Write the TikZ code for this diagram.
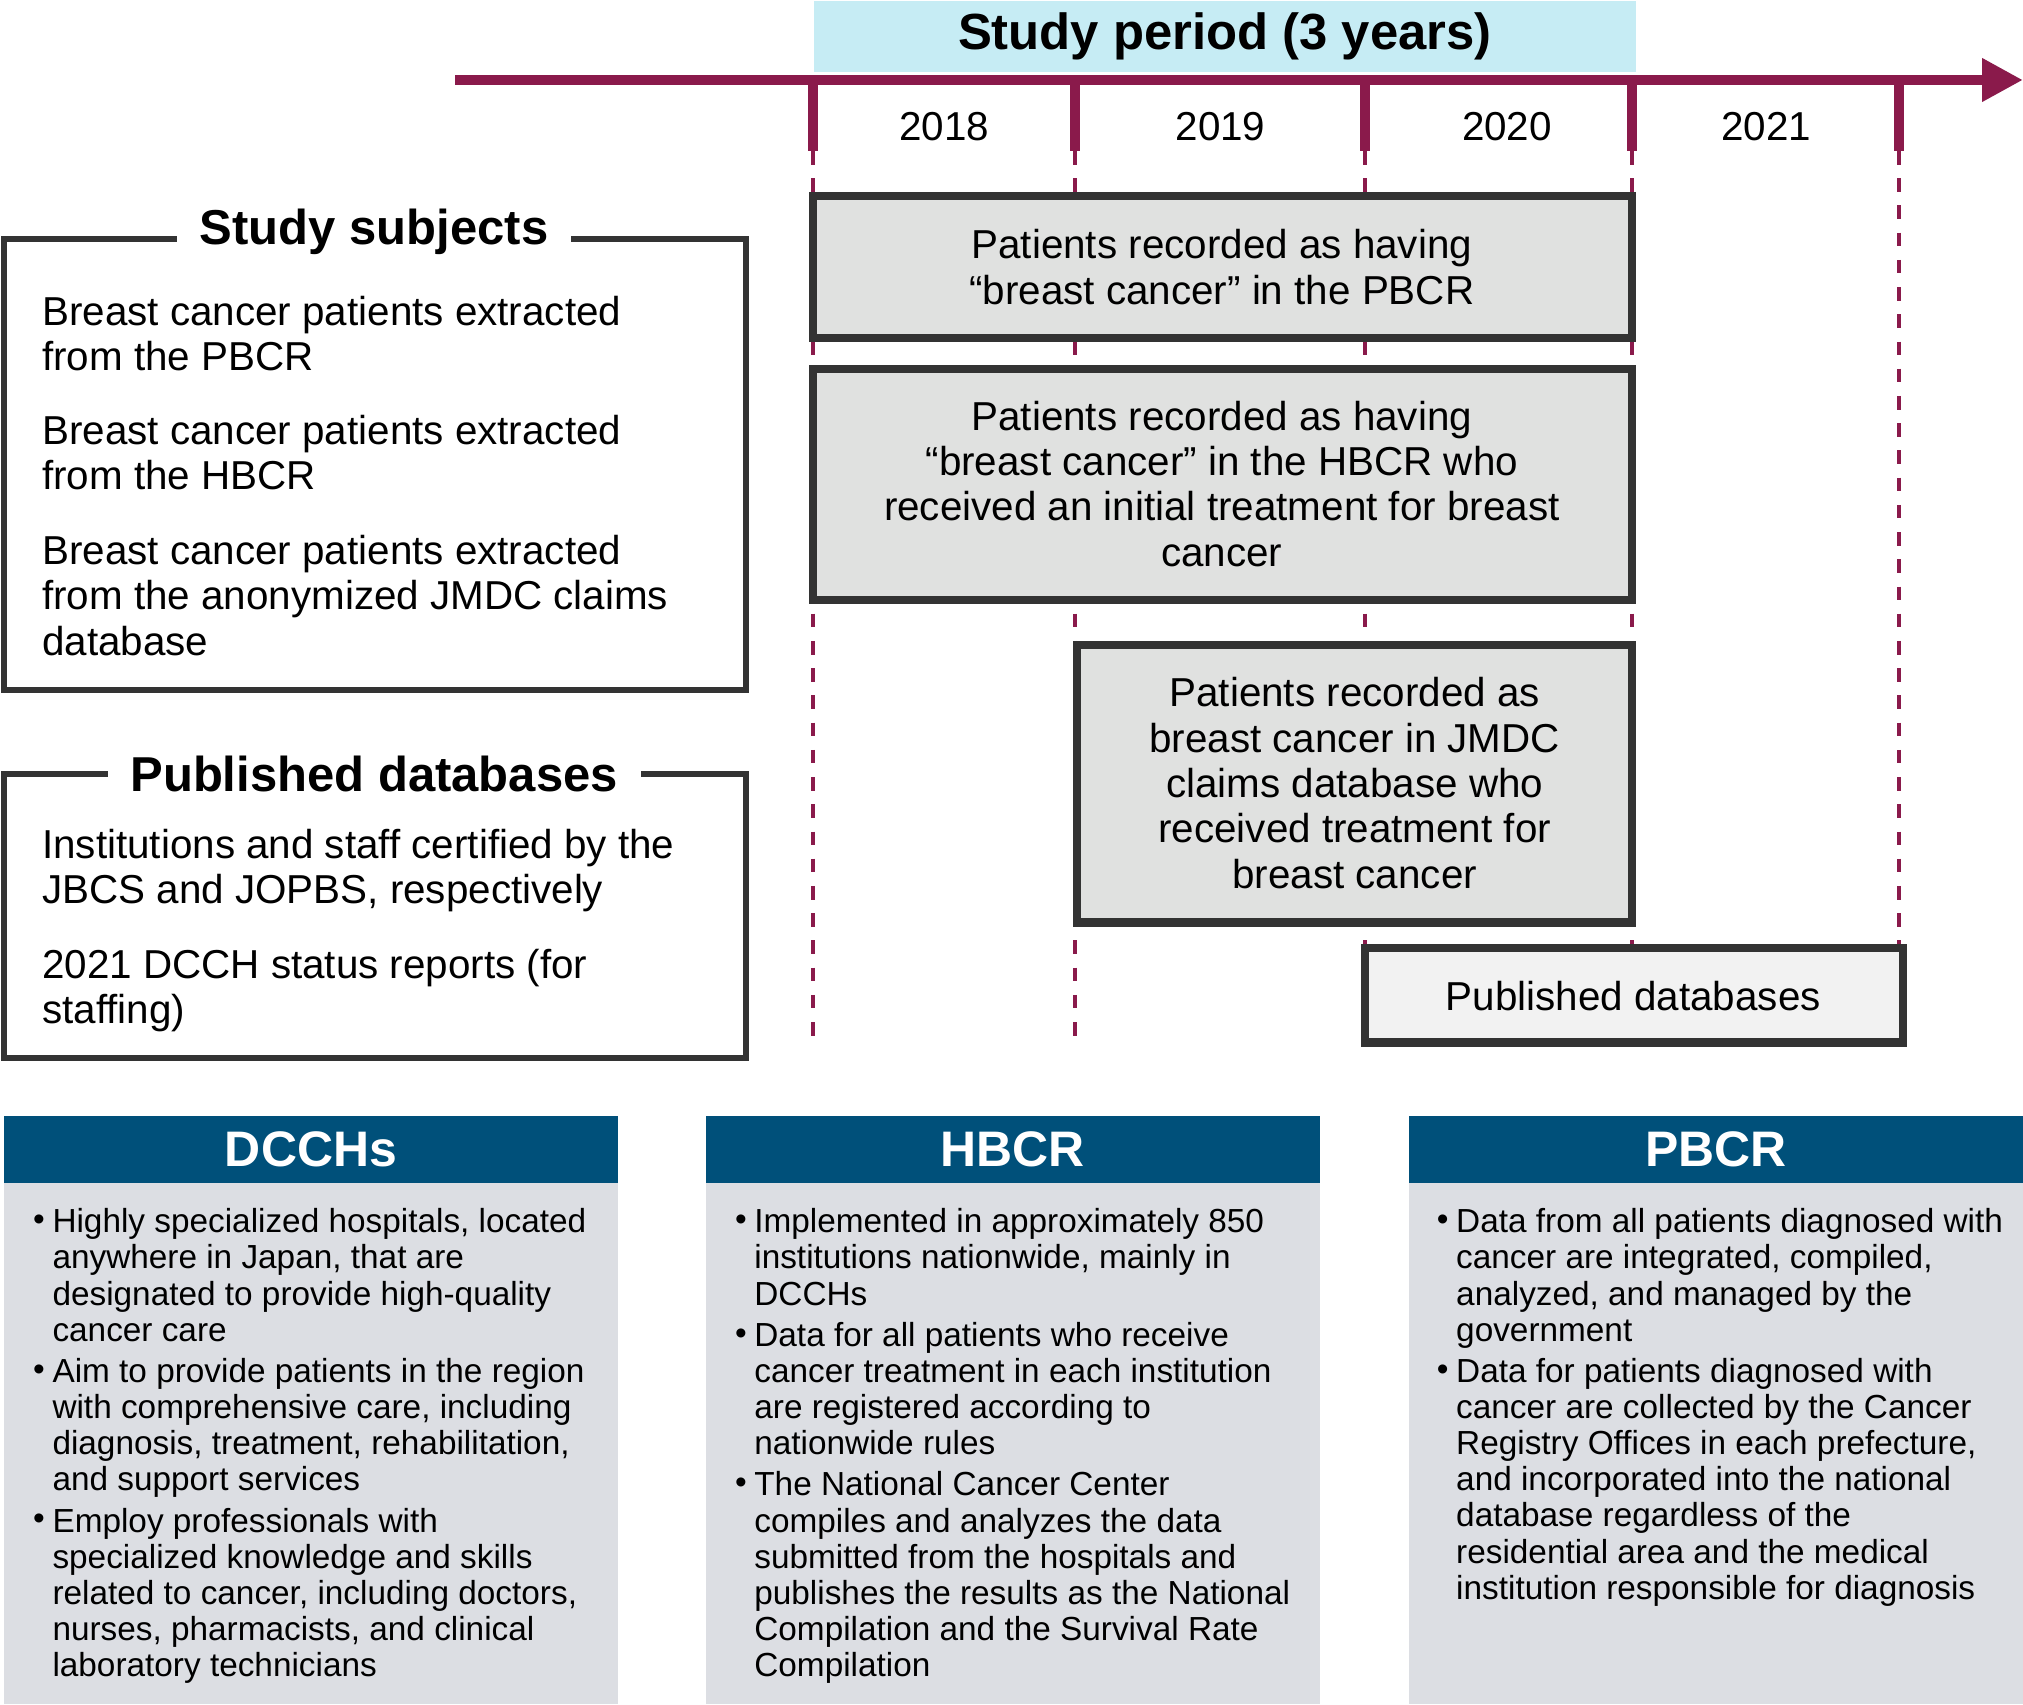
\documentclass[tikz,border=0pt]{standalone}
\usepackage{fontspec}
\setmainfont{Liberation Sans}
\usetikzlibrary{arrows.meta}
\definecolor{maroon}{HTML}{8A1A4B}
\definecolor{cyanbg}{HTML}{C6ECF4}
\definecolor{boxg}{HTML}{E0E1E0}
\definecolor{navy}{HTML}{00507A}
\definecolor{panel}{HTML}{DCDEE3}
\definecolor{frame}{HTML}{333333}
\tikzset{
 period/.style={draw=frame,line width=1.8pt,fill=boxg},
 txt/.style={font=\fontsize{8.9}{10}\selectfont,align=center,inner sep=0},
 ltxt/.style={font=\fontsize{8.9}{10}\selectfont,align=left,anchor=north west,inner sep=0},
 ttl/.style={font=\fontsize{10.8}{12}\selectfont\bfseries,fill=white,inner sep=5pt},
 hdr/.style={font=\fontsize{11}{12}\selectfont\bfseries,text=white},
 btxt/.style={font=\fontsize{7.35}{7.97}\selectfont,align=left,anchor=north west,inner sep=0},
 tickline/.style={draw=maroon,line width=2.3pt},
 dashline/.style={draw=maroon,line width=0.8pt,dashed},
}
\begin{document}
\begin{tikzpicture}[x=0.01cm,y=-0.01cm]
\useasboundingbox (0,0) rectangle (1568,1321);
% study period
\node[fill=cyanbg,minimum width=6.37cm,minimum height=0.55cm,anchor=north west,inner sep=0,font=\fontsize{11.2}{12}\selectfont\bfseries] (sp) at (630,0) {Study period (3 years)};
\coordinate (a0) at (353,62); \coordinate (a1) at (1568,62);
\draw[draw=maroon,line width=2.3pt,-{Triangle[length=9pt,width=9pt]}] (a0) -- (a1);
\foreach \x/\e in {630/808,833/808,1058/735,1265/735,1472/735}{
 \draw[tickline] (\x,62) -- (\x,117);
 \draw[dashline] (\x,117) -- (\x,\e);
}
\foreach \x/\yr in {732/2018,946/2019,1168/2020,1369/2021}
 \node[txt] (y\yr) at (\x,98) {\yr};
% period boxes
\draw[period] (630,152) rectangle (1265,262);
\node[txt] (b1) at (947,207) {Patients recorded as having\\“breast cancer” in the PBCR};
\draw[period] (630,286) rectangle (1265,465);
\node[txt] (b2) at (947,375) {Patients recorded as having\\“breast cancer” in the HBCR who\\received an initial treatment for breast\\cancer};
\draw[period] (835,500) rectangle (1265,715);
\node[txt] (b3) at (1050,607) {Patients recorded as\\breast cancer in JMDC\\claims database who\\received treatment for\\breast cancer};
\draw[draw=frame,line width=1.8pt,fill=black!5] (1058,735) rectangle (1475,808);
\node[txt] (b4) at (1266,772) {Published databases};
% left frames
\draw[draw=frame,line width=1.3pt] (3,185) rectangle (578,535);
\node[ttl] (t1) at (290,180) {Study subjects};
\node[ltxt] (s1) at (32,229) {Breast cancer patients extracted\\from the PBCR};
\node[ltxt] (s2) at (32,321) {Breast cancer patients extracted\\from the HBCR};
\node[ltxt] (s3) at (32,414) {Breast cancer patients extracted\\from the anonymized JMDC claims\\database};
\draw[draw=frame,line width=1.3pt] (3,600) rectangle (578,820);
\node[ttl] (t2) at (290,600) {Published databases};
\node[ltxt] (p1) at (32,642) {Institutions and staff certified by the\\JBCS and JOPBS, respectively};
\node[ltxt] (p2) at (32,735) {2021 DCCH status reports (for\\staffing)};
% bottom panels
\foreach \x/\n/\t in {3/d/DCCHs,547/h/HBCR,1092/p/PBCR}{
 \fill[navy] (\x,865) rectangle (\x+476,917);
 \fill[panel] (\x,917) rectangle (\x+476,1321);
 \node[hdr] (\n hdr) at (\x+238,891) {\t};
}
\foreach \x/\y/\t in {
 25/936/{Highly specialized hospitals, located\\anywhere in Japan, that are\\designated to provide high-quality\\cancer care},
 25/1052/{Aim to provide patients in the region\\with comprehensive care, including\\diagnosis, treatment, rehabilitation,\\and support services},
 25/1168/{Employ professionals with\\specialized knowledge and skills\\related to cancer, including doctors,\\nurses, pharmacists, and clinical\\laboratory technicians},
 569/936/{Implemented in approximately 850\\institutions nationwide, mainly in\\DCCHs},
 569/1024/{Data for all patients who receive\\cancer treatment in each institution\\are registered according to\\nationwide rules},
 569/1140/{The National Cancer Center\\compiles and analyzes the data\\submitted from the hospitals and\\publishes the results as the National\\Compilation and the Survival Rate\\Compilation},
 1113/936/{Data from all patients diagnosed with\\cancer are integrated, compiled,\\analyzed, and managed by the\\government},
 1113/1052/{Data for patients diagnosed with\\cancer are collected by the Cancer\\Registry Offices in each prefecture,\\and incorporated into the national\\database regardless of the\\residential area and the medical\\institution responsible for diagnosis}}{
 \node[btxt] at (\x,\y+5) {•};
 \node[btxt] at (\x+15,\y) {\t};
}
\end{tikzpicture}
\end{document}
